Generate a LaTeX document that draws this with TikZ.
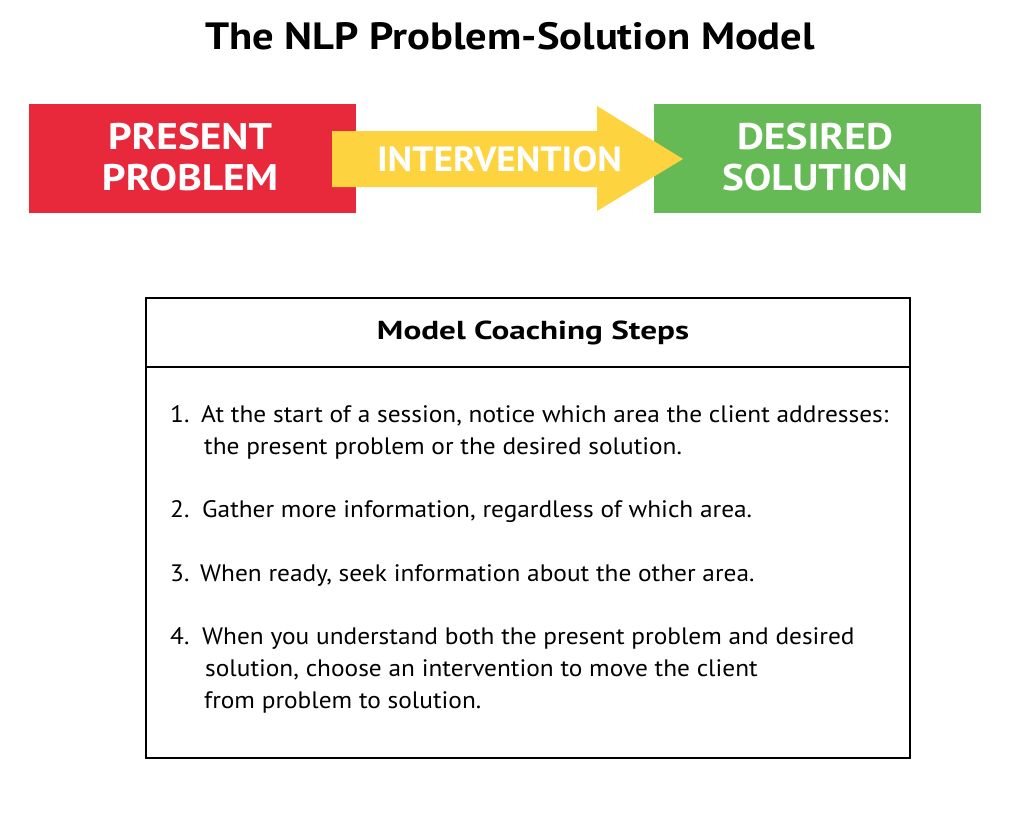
\documentclass[tikz,border=0pt]{standalone}
\usepackage{fontspec}
\setmainfont{PT Sans}
\newfontfamily\itemfont[FakeStretch=1.065]{PT Sans}
\definecolor{probred}{HTML}{E8293C}
\definecolor{intyellow}{HTML}{FDD33F}
\definecolor{solgreen}{HTML}{65BA56}
\newcommand{\fitw}[2]{\resizebox{#1pt}{\height}{#2}}
\begin{document}
\begin{tikzpicture}[x=1pt,y=-1pt,
  bigtxt/.style={text=white,font=\fontsize{37}{42}\selectfont\bfseries,inner sep=0pt,anchor=base},
  itemtxt/.style={font=\itemfont\fontsize{23.8}{31.5}\selectfont,anchor=base west,inner sep=0pt}]
\useasboundingbox (0,0) rectangle (1024,815);
\fill[white] (0,0) rectangle (1024,815);
% title
\node[font=\fontsize{38}{40}\selectfont\bfseries,inner sep=0pt,anchor=base] (title) at (510,49) {\fitw{610}{The NLP Problem-Solution Model}};
% boxes
\fill[probred] (29,104) rectangle (356,213);
\fill[solgreen] (654,104) rectangle (981,213);
\fill[intyellow] (332,131) -- (597,131) -- (597,106) -- (683,159) -- (597,211) -- (597,187) -- (332,187) -- cycle;
\node[bigtxt] (present) at (190,149) {\fitw{164}{PRESENT}};
\node[bigtxt] (problem) at (190,190) {\fitw{176}{PROBLEM}};
\node[bigtxt,font=\fontsize{35}{42}\selectfont\bfseries] (interv) at (499.5,171) {\fitw{245}{INTERVENTION}};
\node[bigtxt] (desired) at (815,149) {\fitw{156}{DESIRED}};
\node[bigtxt] (solution) at (815,190) {\fitw{186}{SOLUTION}};
% coaching box
\draw[line width=1.6pt] (146,298) rectangle (910,758);
\draw[line width=1.6pt] (146,367) -- (910,367);
\node[font=\fontsize{26}{30}\selectfont\bfseries,inner sep=0pt,anchor=base] (head) at (533,339) {\fitw{312}{Model Coaching Steps}};
\node[itemtxt] (n1) at (170,422) {1.};
\node[itemtxt] (t1a) at (201,422) {At the start of a session, notice which area the client addresses:};
\node[itemtxt] (t1b) at (204,454) {the present problem or the desired solution.};
\node[itemtxt] (n2) at (170,517) {2.};
\node[itemtxt] (t2) at (202,517) {Gather more information, regardless of which area.};
\node[itemtxt] (n3) at (170,581) {3.};
\node[itemtxt] (t3) at (200,581) {When ready, seek information about the other area.};
\node[itemtxt] (n4) at (170,644) {4.};
\node[itemtxt] (t4a) at (202,644) {When you understand both the present problem and desired};
\node[itemtxt] (t4b) at (205,676) {solution, choose an intervention to move the client};
\node[itemtxt] (t4c) at (204,708) {from problem to solution.};
\end{tikzpicture}
\end{document}
